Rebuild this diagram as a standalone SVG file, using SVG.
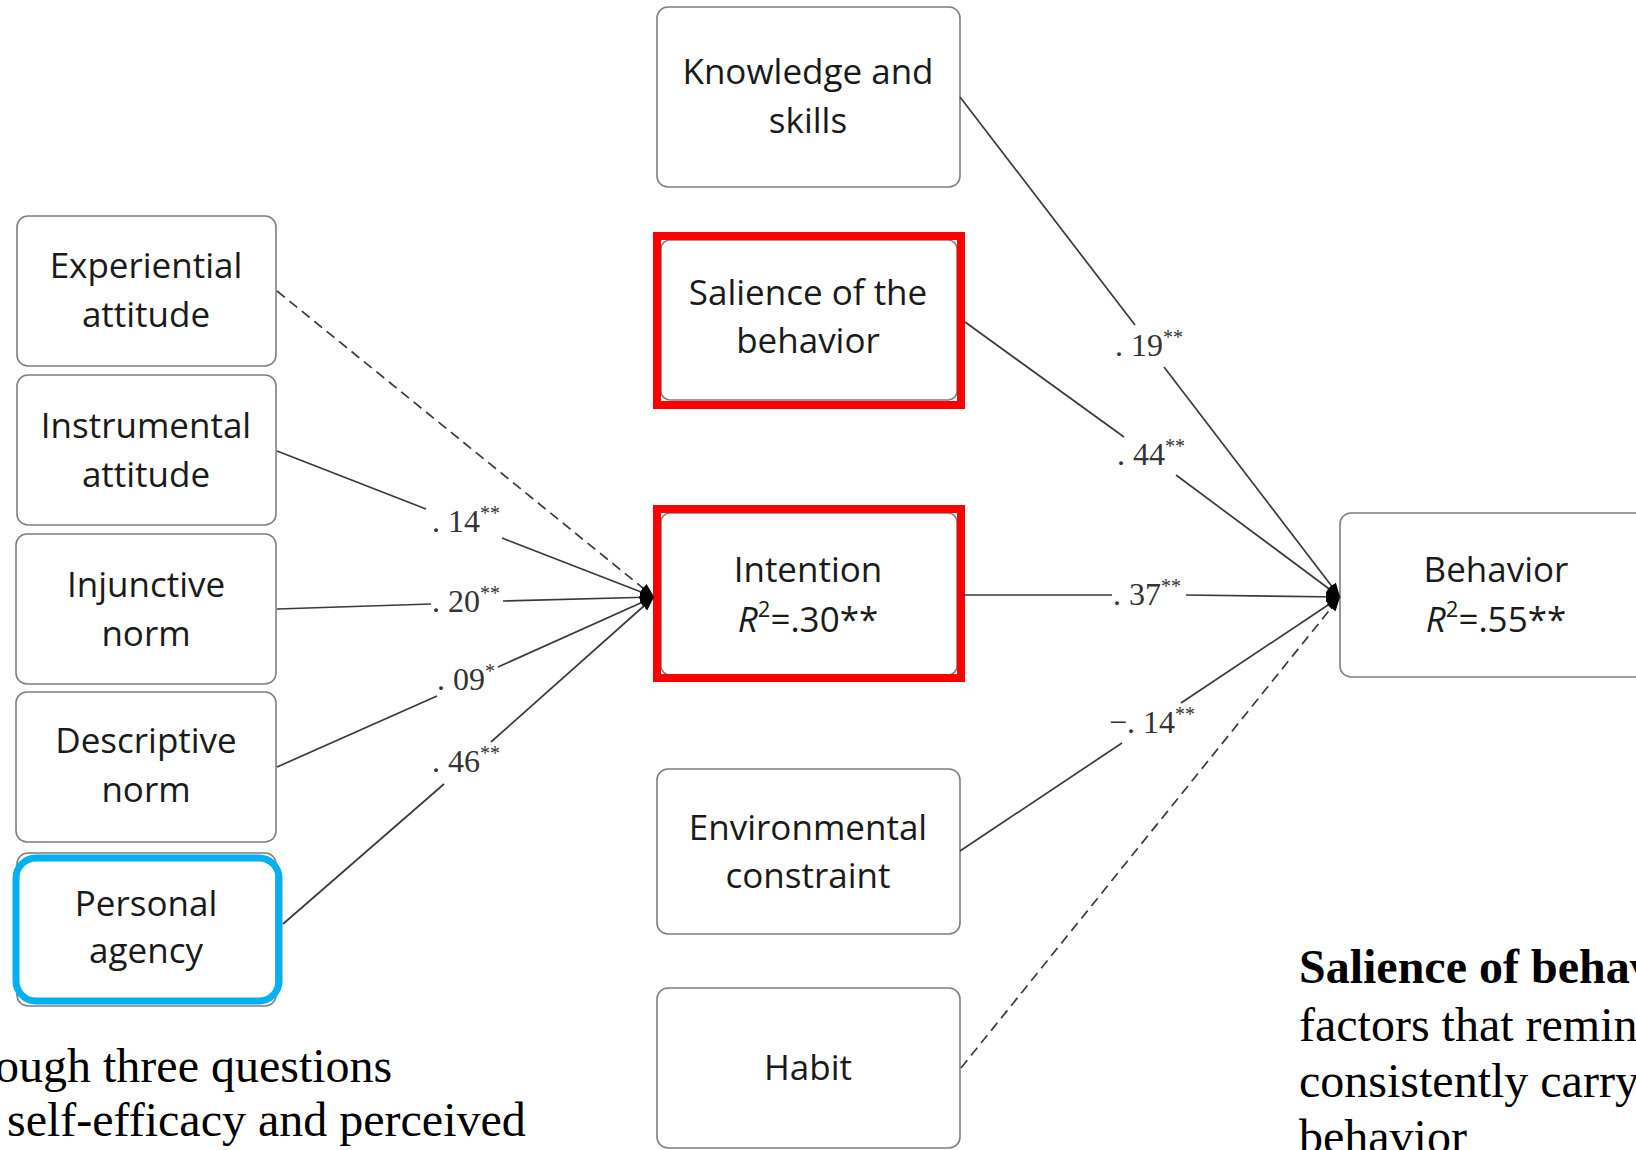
<svg xmlns="http://www.w3.org/2000/svg" width="1636" height="1150" viewBox="0 0 1636 1150">
<style>
.box{fill:#fff;stroke:#7f7f7f;stroke-width:1.6}
.red{fill:none;stroke:#ff0000;stroke-width:8}
.blue{fill:none;stroke:#00b0f0;stroke-width:7}
.t{font-family:"Open Sans","Noto Sans",sans-serif;font-size:35px;fill:#1a1a1a;text-anchor:middle}
.lbl{font-family:"Liberation Serif","Times New Roman",serif;font-size:32px;fill:#333}
.sup{font-size:20px}
.ln{stroke:#3a3a3a;stroke-width:1.7;fill:none}
.dash{stroke-dasharray:10 6}
.body{font-family:"Liberation Serif","Times New Roman",serif;font-size:48px;fill:#000}
</style>
<defs>
<marker id="ah" viewBox="0 0 14 11" refX="14" refY="5.5" markerWidth="14" markerHeight="11" markerUnits="userSpaceOnUse" orient="auto">
<path d="M0,0 L14,5.5 L0,11 z" fill="#000"/>
</marker>
</defs>

<g id="node-experiential">
<rect class="box" x="17" y="216" width="259" height="150" rx="11"/>
<text class="t" x="146" y="278">Experiential</text>
<text class="t" x="146" y="327">attitude</text>
</g>
<g id="node-instrumental">
<rect class="box" x="17" y="375" width="259" height="150" rx="11"/>
<text class="t" x="146" y="438">Instrumental</text>
<text class="t" x="146" y="487">attitude</text>
</g>
<g id="node-injunctive">
<rect class="box" x="16" y="534" width="260" height="150" rx="11"/>
<text class="t" x="146" y="597">Injunctive</text>
<text class="t" x="146" y="646">norm</text>
</g>
<g id="node-descriptive">
<rect class="box" x="16" y="692" width="260" height="150" rx="11"/>
<text class="t" x="146" y="753">Descriptive</text>
<text class="t" x="146" y="802">norm</text>
</g>
<g id="node-personal">
<rect class="box" x="17" y="853" width="259" height="153" rx="11"/>
<rect class="blue" x="16" y="858" width="263" height="143" rx="20"/>
<text class="t" x="146" y="916">Personal</text>
<text class="t" x="146" y="963">agency</text>
</g>

<g id="node-knowledge">
<rect class="box" x="657" y="7" width="303" height="180" rx="11"/>
<text class="t" x="808" y="84">Knowledge and</text>
<text class="t" x="808" y="133">skills</text>
</g>
<g id="node-salience">
<rect class="box" x="661" y="240" width="296" height="160" rx="9"/>
<rect class="red" x="657" y="236" width="304" height="169"/>
<text class="t" x="808" y="305">Salience of the</text>
<text class="t" x="808" y="353">behavior</text>
</g>
<g id="node-intention">
<rect class="box" x="661" y="513" width="296" height="162" rx="9"/>
<rect class="red" x="657" y="509" width="304" height="169"/>
<text class="t" x="808" y="582">Intention</text>
<text class="t" x="808" y="632"><tspan font-style="italic">R</tspan><tspan font-size="22" dy="-15">2</tspan><tspan dy="15">=.30**</tspan></text>
</g>
<g id="node-environmental">
<rect class="box" x="657" y="769" width="303" height="165" rx="11"/>
<text class="t" x="808" y="840">Environmental</text>
<text class="t" x="808" y="888">constraint</text>
</g>
<g id="node-habit">
<rect class="box" x="657" y="988" width="303" height="160" rx="11"/>
<text class="t" x="808" y="1080">Habit</text>
</g>
<g id="node-behavior">
<rect class="box" x="1340" y="513" width="320" height="164" rx="11"/>
<text class="t" x="1496" y="582">Behavior</text>
<text class="t" x="1496" y="632"><tspan font-style="italic">R</tspan><tspan font-size="22" dy="-15">2</tspan><tspan dy="15">=.55**</tspan></text>
</g>

<g id="connectors">
<line class="ln dash" x1="277" y1="291" x2="654" y2="597" marker-end="url(#ah)"/>
<line class="ln" x1="277" y1="451" x2="426" y2="509"/>
<line class="ln" x1="502" y1="538" x2="654" y2="597" marker-end="url(#ah)"/>
<line class="ln" x1="277" y1="609" x2="431" y2="604"/>
<line class="ln" x1="503" y1="601" x2="654" y2="597" marker-end="url(#ah)"/>
<line class="ln" x1="277" y1="767" x2="437" y2="696"/>
<line class="ln" x1="498" y1="667" x2="654" y2="597" marker-end="url(#ah)"/>
<line class="ln" x1="283" y1="924" x2="444" y2="784"/>
<line class="ln" x1="491" y1="742" x2="654" y2="597" marker-end="url(#ah)"/>

<line class="ln" x1="960" y1="97" x2="1135" y2="325"/>
<line class="ln" x1="1164" y1="367" x2="1340" y2="597" marker-end="url(#ah)"/>
<line class="ln" x1="965" y1="322" x2="1124" y2="437"/>
<line class="ln" x1="1176" y1="475" x2="1340" y2="597" marker-end="url(#ah)"/>
<line class="ln" x1="962" y1="595" x2="1112" y2="595"/>
<line class="ln" x1="1186" y1="595" x2="1340" y2="597" marker-end="url(#ah)"/>
<line class="ln" x1="960" y1="851" x2="1122" y2="743"/>
<line class="ln" x1="1181" y1="703" x2="1340" y2="597" marker-end="url(#ah)"/>
<line class="ln dash" x1="961" y1="1068" x2="1340" y2="597" marker-end="url(#ah)"/>

<text class="lbl" x="432" y="532">. 14<tspan class="sup" dy="-12">**</tspan></text>
<text class="lbl" x="432" y="612">. 20<tspan class="sup" dy="-12">**</tspan></text>
<text class="lbl" x="437" y="690">. 09<tspan class="sup" dy="-12">*</tspan></text>
<text class="lbl" x="432" y="772">. 46<tspan class="sup" dy="-12">**</tspan></text>
<text class="lbl" x="1115" y="356">. 19<tspan class="sup" dy="-12">**</tspan></text>
<text class="lbl" x="1117" y="465">. 44<tspan class="sup" dy="-12">**</tspan></text>
<text class="lbl" x="1113" y="605">. 37<tspan class="sup" dy="-12">**</tspan></text>
<text class="lbl" x="1109" y="733">−. 14<tspan class="sup" dy="-12">**</tspan></text>
</g>

<g id="text-left">
<text class="body" x="-5" y="1082">ough three questions</text>
<text class="body" x="7" y="1136">self-efficacy and perceived</text>
</g>
<g id="text-right">
<text class="body" x="1299" y="983" font-weight="bold">Salience of behav</text>
<text class="body" x="1299" y="1041">factors that remin</text>
<text class="body" x="1299" y="1097">consistently carry</text>
<text class="body" x="1299" y="1153">behavior</text>
</g>
</svg>
